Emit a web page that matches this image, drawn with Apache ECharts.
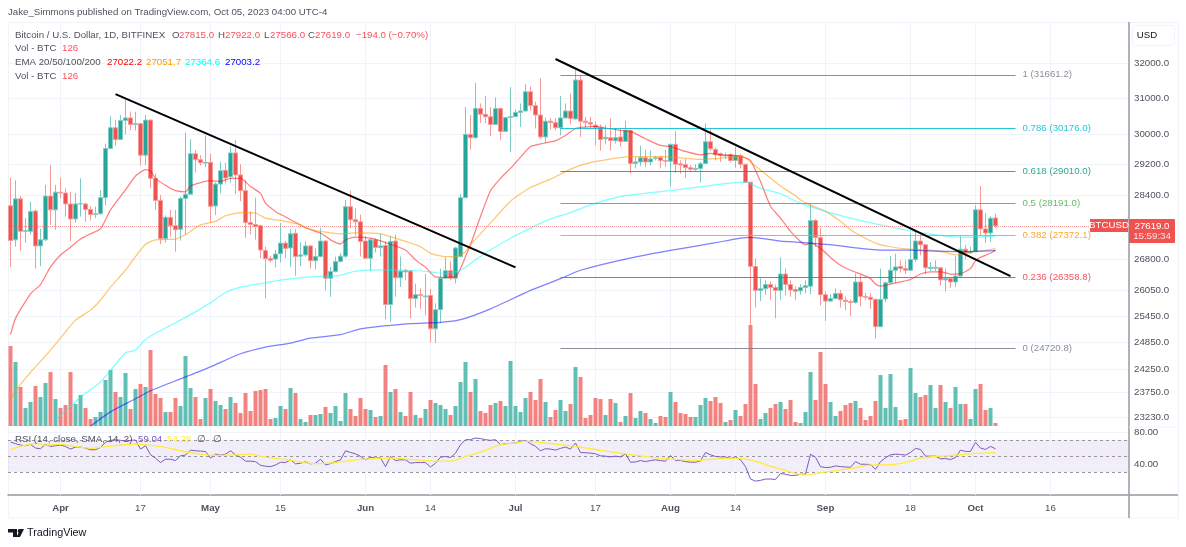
<!DOCTYPE html>
<html>
<head>
<meta charset="utf-8">
<style>html,body{margin:0;padding:0;background:#fff}#c{width:1186px;height:547px}</style>
<script src="https://cdn.jsdelivr.net/npm/echarts@6/dist/echarts.min.js"></script>
</head>
<body>
<div id="c"></div>
<script>
const firstDay = '2023-03-22';
const opens = [28123,27270,28300,27480,27480,27990,27120,27270,28370,28020,28470,28450,28170,27790,28170,28170,28030,27900,27920,28330,
29620,30180,29860,30380,30450,30270,30290,29440,30390,28830,28260,27300,27830,27620,27530,28310,28420,29480,29320,29230,
29250,28120,28680,29040,28870,29500,28920,28510,27700,27650,27620,27010,26810,26800,26930,27190,27070,27430,26870,26900,
27120,26760,26860,27240,26340,26500,26740,26870,28100,27770,27720,27240,26820,27270,27080,27130,25720,27240,26350,26520,
26510,25860,25950,25900,25930,25160,25600,26340,26520,26340,26860,28330,30000,29910,30710,30550,30480,30270,30710,30080,
30460,30490,30600,30640,31180,30790,30530,29930,30360,30320,30180,30450,30640,30420,31510,30360,30320,30250,30180,29880,
29910,29830,29930,29810,30110,29220,29260,29370,29260,29350,29380,29300,29280,29730,29210,29190,29110,29060,29090,29220,
29800,29590,29480,29420,29460,29300,29430,29200,28730,26620,26050,26090,26190,26120,26050,26440,26190,26070,26040,26120,
26150,27750,27330,25950,25800,25860,25980,25820,25790,25770,26250,25910,25890,25840,25210,25850,26230,26530,26620,26570,
26530,26790,27240,27150,26570,26580,26590,26300,26330,26250,26390,27040,26950,26980,28020,27540,27440,27815];
const closes = [27254,28300,27480,27500,27980,27120,27270,28370,28020,28470,28450,28170,27790,28170,28180,28030,27900,27920,28330,29620,
30180,29860,30380,30450,30270,30290,29440,30390,28830,28260,27300,27830,27620,27520,28310,28420,29480,29320,29240,29250,
28110,28680,29030,28840,29500,28920,28510,27700,27650,27600,27020,26810,26770,26920,27190,27060,27420,26860,26900,27120,
26760,26860,27240,26340,26500,26740,26870,28100,27770,27720,27230,26820,27270,27080,27120,25720,27230,26350,26510,26490,
25860,25950,25930,25920,25160,25600,26340,26520,26340,27070,28330,30000,29910,30710,30550,30480,30270,30710,30080,30460,
30490,30600,30640,31180,30790,30530,29930,30360,30320,30180,30450,30640,30430,31510,30360,30320,30280,30180,29860,29920,
29830,29910,29810,30110,29220,29260,29370,29260,29340,29370,29300,29280,29730,29200,29180,29110,29070,29090,29210,29800,
29610,29450,29430,29440,29300,29430,29200,28730,26620,26050,26090,26190,26120,26050,26440,26190,26060,26030,26120,26160,
27750,27330,25950,25800,25860,25980,25830,25790,25770,26250,25910,25890,25840,25210,25840,26230,26530,26610,26570,26530,
26790,27240,27150,26590,26600,26600,26300,26330,26250,26390,27040,26950,26980,28020,27540,27440,27810,27619];
const highs = [28840,28780,28370,27810,28230,28030,27545,28660,29180,28660,28850,28570,28480,28450,28830,28200,28110,28100,28530,29750,
30500,30400,30530,30960,30620,30620,30310,30530,30400,28950,28400,27880,28020,28020,28360,30050,29870,29570,29440,29970,
29480,28730,29270,29240,29670,29840,29200,28790,27980,28330,27650,27100,26880,27020,27690,27240,27540,27540,27220,27230,
27150,27060,27570,27260,26610,26860,26950,28270,28510,28060,27900,27360,27310,27310,27420,27230,27360,27400,26860,26560,
26530,26210,26100,26440,26090,25750,26570,26840,26750,27100,28420,30750,30530,31430,30850,31060,30750,31020,30720,30470,
31310,30680,30850,31400,31330,30900,31560,30460,30440,30440,31060,30850,31130,31800,31660,30480,30480,30360,30270,30250,
30440,30160,30160,30370,30120,29390,29700,29590,29570,29420,29420,29580,29750,30090,29300,29350,29180,29200,29260,30300,
30160,29640,29510,29510,29490,29670,29480,29210,28740,26820,26340,26290,26260,26190,26840,26570,26290,26150,26200,26290,
28190,27790,27560,26030,25960,26100,26060,25910,25840,26450,26430,26000,25990,25860,26570,26260,26870,26930,26770,26770,
27440,27490,27400,27160,26730,26770,26600,26570,26350,26870,27370,27150,27100,28140,28630,27940,27860,27922];
const lows = [26606,27100,27000,27200,27400,26570,26630,27240,27640,27520,28320,27850,27230,27700,27850,27720,27750,27810,27890,28130,
29600,29690,29850,30000,30110,30100,29170,29170,28580,28020,27170,27200,27350,26980,27250,27400,28400,28980,29170,29120,
27700,27890,28440,28700,28720,28420,28240,27320,27400,27270,26820,25860,26720,26600,26720,26820,26610,26400,26630,26860,
26570,26550,26840,26050,25900,26480,26720,26820,27560,27370,26860,26800,26510,26960,26860,25380,25320,25900,26130,26290,
25400,25650,25620,25470,24850,24840,25290,26330,26290,26220,26840,28320,29590,29880,30310,30310,29950,30260,29840,30070,
29520,30480,30200,30630,30650,30160,29880,29760,30130,30110,29970,30440,30270,30410,29930,30180,30160,29700,29560,29730,
29560,29750,29670,29800,28950,29090,29150,29130,29170,29300,29090,29130,28620,28970,28950,28840,29000,29000,28720,29210,
29550,29300,29260,29340,29250,29110,29090,28720,25250,25650,25800,25950,25830,25400,25830,25930,25900,25820,25950,25980,
25960,27100,25700,25340,25780,25840,25650,25590,25450,25740,25680,25820,25620,24940,25200,25770,26220,26220,26470,26440,
26520,26730,26890,26430,26510,26510,26170,26030,26110,26130,26380,26790,26930,26970,27370,27190,27230,27566];
const volumes = [3360,2688,1638,756,1008,1680,1218,1806,2268,1134,756,882,2268,924,1302,756,294,378,588,1932,
2352,1428,1218,2226,714,1554,1764,1638,3192,1344,1176,588,588,1176,840,2940,1596,1218,294,1176,
1554,1050,882,714,1218,966,546,1386,630,1470,1512,1554,294,336,840,714,1596,1386,294,168,
462,462,504,798,546,840,210,1386,714,420,1176,714,672,378,420,2562,1428,1554,
588,420,1428,462,336,714,1092,966,882,714,462,840,1848,2688,1428,1974,630,546,882,966,
1050,840,2730,840,588,1176,1428,1092,1974,1008,378,672,1092,630,924,2478,2058,336,462,1176,
1134,462,1134,966,168,420,1386,336,630,546,294,126,420,378,1428,1008,546,504,378,378,
882,1176,1050,1218,966,168,252,672,420,924,4242,1764,294,546,756,924,1008,714,1092,168,
126,588,2268,1092,3108,1764,1008,420,630,882,966,1050,756,252,420,1050,2142,756,2184,798,
252,294,2436,1386,1218,1302,1722,756,1722,1008,756,1638,924,924,294,1554,1764,672,756,126];
const rsi = [67.5,65.4,63.7,62.8,64.5,59.9,59.1,64.5,62,62.8,63.7,62,58.6,61.2,61.2,59.9,57.8,57.8,60.7,67.1,
69.6,70.4,69.6,68.7,69.6,70,58.6,62.8,51.5,47.3,41.8,46,46,44.3,50.2,51.1,57.4,56.5,56.1,55.7,
47.3,52.3,51.1,52.3,56.5,51.5,48.5,43.5,43.5,43,38.4,37.2,36.7,38.8,42.2,41.8,45.2,40.1,41,42.6,
40.1,41,46,38.8,40.5,43,45.2,56.5,54.4,52.7,49.4,45.2,48.5,47.3,47.7,36.7,49.4,44.3,45.2,45.2,
41,41.8,41.8,41.8,36.3,41,48.5,49.4,48.1,53.6,64.1,70.4,70.4,72.5,71.7,70.4,69.6,70.4,64.1,65.4,
65.8,66.2,68.3,69.6,65.4,62,56.5,59.1,58.6,57.4,59.5,61.2,58.6,66.2,54.4,54,53.6,52.7,50.2,49.8,
48.9,49.8,48.9,52.7,42.2,42.6,44.3,43,44.3,45.2,44.3,43.5,50.6,44.3,44.3,43,42.2,42.2,43.9,54.4,
51.5,49.4,48.9,48.9,46.8,48.9,45.2,36.7,21.2,18.6,19.5,21.2,21.2,20.7,28.3,27.1,25.8,25.8,27.1,27.5,
52.3,48.5,36.7,35.5,35.9,37.6,36.7,36.3,35.9,43,39.7,39.7,39.3,33.4,43,47.7,51.5,52.3,51.9,51.1,
54.4,59.5,58.2,49.8,49.8,49.8,46.4,46.8,45.6,48.1,57.4,55.7,55.7,67.1,59.9,58.2,62,59.04];
/* Moving averages as [day number, value] vertices */
const rsiSma = [[0,57.8],[2,62],[5,65.8],[7,63.7],[10,64.5],[13,62],[16,59.5],[20,62.4],[25,65],[28,63.3],[31,60.7],[35,55.3],[38,52.3],[41,50.6],[45,51.5],[48,52.3],[51,48.5],[55,45.6],[58,42.6],[61,40.5],[65,41.8],[68,44.3],[71,46],[77,47.3],[81,45.2],[85,43.5],[88,43.5],[91,49.4],[95,57],[98,64.1],[101,66.2],[103,68.7],[108,65.4],[113,62],[118,57],[123,52.7],[128,48.5],[132,46],[137,44.3],[141,46.4],[145,47.3],[148,45.2],[151,39.3],[155,31.7],[157,28.3],[159,26.2],[162,29.2],[165,31.7],[169,35.5],[172,38.8],[175,38.8],[179,41.8],[182,47.3],[185,49.4],[188,50.6],[193,53.2],[197,54.28]];
const ema20 = [[0,25030],[1,25400],[4,25970],[6,26190],[8,26610],[10,26900],[12,27090],[14,27290],[16,27420],[18,27540],[20,28020],[23,28530],[25,28890],[27,29060],[28,29020],[29,28830],[31,28650],[33,28510],[35,28480],[36,28630],[38,28720],[40,28770],[42,28750],[44,28830],[46,28830],[48,28620],[50,28440],[51,28190],[53,27980],[55,27840],[58,27640],[60,27520],[62,27440],[64,27270],[66,27170],[67,27270],[69,27340],[72,27310],[75,27200],[79,27020],[81,26780],[83,26600],[85,26370],[87,26360],[89,26370],[90,26570],[91,26860],[92,27150],[94,27850],[96,28510],[98,28830],[100,29090],[102,29390],[104,29670],[106,29740],[109,29830],[111,29970],[113,30160],[115,30200],[117,30220],[119,30170],[122,30110],[124,30080],[127,29880],[130,29700],[132,29670],[135,29540],[138,29450],[140,29490],[142,29450],[145,29430],[147,29370],[148,29300],[150,28750],[152,28110],[154,27810],[156,27480],[158,27230],[159,27150],[160,27190],[162,27060],[164,26840],[166,26650],[168,26530],[170,26440],[172,26330],[173,26200],[174,26150],[176,26200],[178,26250],[180,26310],[182,26440],[184,26490],[186,26490],[188,26440],[190,26450],[192,26570],[193,26760],[194,26840],[196,26940],[197,27022]];
const ema50 = [[0,23580],[1,23790],[4,24190],[6,24430],[8,24680],[11,25090],[13,25360],[16,25590],[18,25820],[20,26130],[23,26530],[25,26860],[27,27160],[29,27270],[33,27290],[35,27400],[38,27640],[41,27730],[43,27870],[46,27950],[49,27940],[51,27810],[55,27730],[58,27640],[59,27560],[62,27480],[66,27420],[69,27440],[74,27420],[78,27270],[82,27100],[84,26940],[87,26860],[89,26860],[91,26980],[92,27150],[96,27690],[100,28240],[104,28590],[108,28810],[112,29070],[114,29170],[117,29270],[124,29400],[130,29400],[134,29370],[138,29330],[142,29360],[146,29400],[147,29370],[148,29260],[154,28630],[157,28380],[158,28270],[160,28140],[163,27980],[166,27730],[168,27520],[170,27370],[173,27190],[176,27100],[180,27040],[184,27020],[187,26960],[189,26900],[191,26940],[193,26980],[197,27051.7]];
const ema100 = [[9,23170],[14,23650],[18,23980],[20,24230],[23,24620],[25,24680],[27,24920],[29,25060],[33,25300],[37,25550],[40,25760],[43,26000],[46,26130],[51,26230],[55,26310],[60,26370],[66,26410],[69,26510],[74,26540],[80,26530],[84,26490],[87,26450],[90,26530],[93,26780],[96,27020],[100,27310],[104,27560],[108,27790],[112,27950],[117,28190],[123,28380],[132,28510],[139,28630],[145,28720],[147,28730],[150,28570],[154,28430],[158,28190],[163,27980],[168,27810],[174,27640],[180,27490],[184,27410],[188,27350],[192,27330],[197,27364.6]];
const ema200 = [[16,23040],[20,23340],[25,23620],[28,23790],[35,24090],[40,24310],[46,24600],[51,24750],[56,24840],[60,24950],[66,25030],[70,25160],[76,25240],[80,25280],[86,25310],[90,25370],[96,25620],[104,26050],[110,26330],[114,26530],[123,26800],[132,27010],[141,27200],[146,27310],[148,27330],[154,27240],[158,27210],[164,27150],[170,27060],[174,27020],[180,27020],[186,26990],[190,26980],[197,27003.2]];
const priceTicks = [32000,31000,30000,29200,28400,26800,26050,25450,24850,24250,23750,23230];
const rsiTicks = [80,40];
const rsiLevels = [70,50,30];
const tickDays = ['2023-04-01','2023-04-17','2023-05-01','2023-05-15','2023-06-01','2023-06-14','2023-07-01','2023-07-17','2023-08-01','2023-08-14','2023-09-01','2023-09-18','2023-10-01','2023-10-16'];
const tickLabels = ['Apr','17','May','15','Jun','14','Jul','17','Aug','14','Sep','18','Oct','16'];
const fibRatios = ['1','0.786','0.618','0.5','0.382','0.236','0'];
const fibPrices = [31661.2,30176.0,29010.0,28191.0,27372.1,26358.8,24720.8];
const fibColors = ['#787b86','#00bcd4','#089981','#4caf50','#ff9800','#f23645','#787b86'];
const fibSpan = ['2023-07-10','2023-10-09'];
const trendA = [['2023-04-12',31113],['2023-07-01',26600]];
const trendB = [['2023-07-09',32116],['2023-10-08',26390]];
const lastPrice = 27619;

const UP = '#26a69a', DOWN = '#ef5350', GRID = '#f0f3fa', TXT = '#50535e', AX = '#4f525c', RED = '#f7525f';
const FONT = '"Liberation Sans", Arial, sans-serif';
const NARROW = '"Liberation Sans Narrow", "Liberation Sans", sans-serif';
const FS = 9.7;
const F = FS + 'px ' + FONT;

const categories = [];
(function(){ const d0 = Date.parse(firstDay + 'T00:00:00Z');
  for (let i = 0; i < 224; i++) categories.push(new Date(d0 + i * 864e5).toISOString().slice(0, 10)); })();

const noLine = {show:false};
const thin = {symbol:'none', silent:true, animation:false};

function bare(gridIndex){
  return {type:'category', gridIndex, data:categories, boundaryGap:true,
    axisLine:noLine, axisTick:noLine, axisLabel:noLine, splitLine:noLine};
}

const gridLineStyle = {color:GRID, width:1, type:'solid'};

const fibData = fibPrices.map((p, i) => [
  {coord:[fibSpan[0], p], lineStyle:{color:fibColors[i], width:1, type:'solid', opacity:.85},
   label:{show:true, position:'end', distance:7, color:fibColors[i], fontFamily:FONT, fontSize:FS,
     formatter: fibRatios[i] + ' (' + p.toFixed(1) + ')'}},
  {coord:[fibSpan[1], p]}
]);
const blackLine = {color:'#000', width:2, type:'solid'};
const trendData = [trendA, trendB].map(t => [
  {coord:t[0], lineStyle:blackLine, label:{show:false}},
  {coord:t[1]}
]);

function span(x, y, text, fill){
  return {type:'text', z:50, silent:true, x, y, style:{text, fill, font:F, textVerticalAlign:'middle'}};
}
function boxText(x, y, text, fill, font){
  return {type:'text', z:51, silent:true, x, y, style:{text, fill, font, textAlign:'center', textVerticalAlign:'middle'}};
}

const emaLine = (name, data, color, opacity) => ({name, type:'line', xAxisIndex:0, yAxisIndex:0, data,
  showSymbol:false, z:4, silent:true, smooth:0.2, lineStyle:{color, width:1.25, opacity}});

const option = {
  animation:false,
  backgroundColor:'#fff',
  textStyle:{fontFamily:FONT},
  grid:[
    {left:8, top:22, width:1120, height:405},
    {left:8, top:325, width:1120, height:101},
    {left:8, top:427, width:1120, height:68}
  ],
  xAxis:[
    bare(0), bare(1),
    Object.assign(bare(2), {
      axisLine:{show:true, lineStyle:{color:'#9598a1', width:1.5}},
      axisLabel:{show:true, interval:(i, v) => tickDays.includes(v), margin:8, hideOverlap:false,
        fontFamily:FONT, fontSize:FS,
        formatter:v => {
          const l = tickLabels[tickDays.indexOf(v)];
          return /\d/.test(l) ? '{n|' + l + '}' : '{m|' + l + '}';
        },
        rich:{n:{color:AX, fontSize:FS, fontFamily:FONT}, m:{color:AX, fontSize:FS, fontWeight:'bold', fontFamily:FONT}}
      }
    })
  ],
  yAxis:[
    {type:'log', gridIndex:0, position:'right', logBase:10, min:23023, max:33209,
      axisLine:noLine, axisTick:noLine, splitLine:noLine,
      axisLabel:{show:true, customValues:priceTicks, formatter:v => Number(v).toFixed(1), color:AX,
        fontFamily:FONT, fontSize:FS, margin:6, showMinLabel:true, showMaxLabel:true}},
    {type:'value', gridIndex:1, min:0, max:4242, axisLine:noLine, axisTick:noLine, axisLabel:noLine, splitLine:noLine},
    {type:'value', gridIndex:2, position:'right', min:1.25, max:86.25,
      axisLine:noLine, axisTick:noLine, splitLine:noLine,
      axisLabel:{show:true, customValues:rsiTicks, formatter:v => Number(v).toFixed(2), color:AX,
        fontFamily:FONT, fontSize:FS, margin:6}}
  ],
  series:[
    {name:'grid', type:'line', xAxisIndex:0, yAxisIndex:0, data:[closes[0]], showSymbol:false, lineStyle:{opacity:0}, z:1, silent:true,
      markLine:Object.assign({z:1, label:{show:false}, lineStyle:gridLineStyle,
        data:priceTicks.map(v => ({yAxis:v})).concat(tickDays.map(d => ({xAxis:d})))}, thin)},
    {name:'gridRsi', type:'line', xAxisIndex:2, yAxisIndex:2, data:[rsi[0]], showSymbol:false, lineStyle:{opacity:0}, z:1, silent:true,
      markLine:Object.assign({z:1, label:{show:false}, lineStyle:gridLineStyle,
        data:rsiTicks.map(v => ({yAxis:v})).concat(tickDays.map(d => ({xAxis:d})))}, thin)},
    {name:'Vol', type:'bar', xAxisIndex:1, yAxisIndex:1, barWidth:4, z:2, silent:true,
      data:volumes.map((v, i) => ({value:v, itemStyle:{color:closes[i] >= opens[i] ? UP : DOWN, opacity:.72}}))},
    {name:'BTCUSD', type:'candlestick', xAxisIndex:0, yAxisIndex:0, barWidth:4, z:3, silent:true,
      data:opens.map((o, i) => [o, closes[i], lows[i], highs[i]]),
      itemStyle:{color:UP, color0:DOWN, borderColor:'#7fcac3', borderColor0:'#f69a98', borderWidth:1},
      markLine:Object.assign({z:6, label:{show:false},
        data:[{yAxis:lastPrice, lineStyle:{color:DOWN, type:'dotted', width:1, opacity:.55}, label:{show:false}}]
          .concat(fibData).concat(trendData)}, thin)},
    emaLine('EMA20', ema20, '#ff0000', .5),
    emaLine('EMA50', ema50, '#ff9800', .55),
    emaLine('EMA100', ema100, '#00ffff', .5),
    emaLine('EMA200', ema200, '#0000ff', .5),
    {name:'RSI', type:'line', xAxisIndex:2, yAxisIndex:2, data:rsi, showSymbol:false, z:4, silent:true,
      lineStyle:{color:'#7e57c2', width:1},
      markArea:{silent:true, z:1, itemStyle:{color:'rgba(126,87,194,0.1)'}, data:[[{yAxis:rsiLevels[0]},{yAxis:rsiLevels[2]}]]},
      markLine:Object.assign({z:2, label:{show:false},
        lineStyle:{color:'#9598a1', type:[3,3], width:1}, data:rsiLevels.map(v => ({yAxis:v}))}, thin)},
    {name:'RSI SMA', type:'line', xAxisIndex:2, yAxisIndex:2, data:rsiSma, showSymbol:false, z:4, silent:true, smooth:0.2,
      lineStyle:{color:'#ffeb3b', width:1.3}}
  ],
  graphic:{elements:[
    {type:'rect', z:0, silent:true, shape:{x:8.5, y:22.5, width:1170, height:495.5}, style:{fill:'none', stroke:GRID, lineWidth:1}},
    {type:'line', z:50, silent:true, shape:{x1:1129, y1:22, x2:1129, y2:518}, style:{stroke:'#9598a1', lineWidth:1.5}},
    {type:'line', z:50, silent:true, shape:{x1:1129, y1:495, x2:1178, y2:495}, style:{stroke:'#9598a1', lineWidth:1.5}},
    {type:'line', z:50, silent:true, shape:{x1:1129, y1:427, x2:1178, y2:427}, style:{stroke:GRID, lineWidth:1}},
    span(8, 12.5, 'Jake_Simmons published on TradingView.com, Oct 05, 2023 04:00 UTC-4', TXT),
    span(15, 35, 'Bitcoin / U.S. Dollar, 1D, BITFINEX', TXT),
    span(172, 35, 'O', TXT), span(179, 35, '27815.0', RED),
    span(218, 35, 'H', TXT), span(225, 35, '27922.0', RED),
    span(264, 35, 'L', TXT), span(270, 35, '27566.0', RED),
    span(308, 35, 'C', TXT), span(315, 35, '27619.0', RED),
    span(356, 35, '−194.0 (−0.70%)', RED),
    span(15, 48.5, 'Vol - BTC', TXT), span(62, 48.5, '126', RED),
    span(15, 62, 'EMA 20/50/100/200', TXT),
    span(107, 62, '27022.2', '#ff0000'), span(146, 62, '27051.7', '#ff9800'),
    span(185, 62, '27364.6', '#00ffff'), span(225, 62, '27003.2', '#0000ff'),
    span(15, 76, 'Vol - BTC', TXT), span(62, 76, '126', RED),
    span(15, 439.5, 'RSI (14, close, SMA, 14, 2)', TXT),
    span(138, 439.5, '59.04', '#7e57c2'), span(167, 439.5, '54.28', '#ffeb3b'),
    span(197, 439.5, '∅', TXT), span(213, 439.5, '∅', TXT),
    {type:'rect', z:50, silent:true, shape:{x:1132.5, y:25.5, width:42, height:20, r:3}, style:{fill:'#fff', stroke:GRID, lineWidth:1}},
    boxText(1147, 35.5, 'USD', '#131722', FS + 'px ' + NARROW),
    {type:'rect', z:50, silent:true, shape:{x:1090, y:219, width:38, height:13}, style:{fill:DOWN}},
    boxText(1109, 225.7, 'BTCUSD', '#fff', FS + 'px ' + NARROW),
    {type:'rect', z:50, silent:true, shape:{x:1129, y:219, width:46, height:24, r:1}, style:{fill:DOWN}},
    boxText(1152, 226, '27619.0', '#fff', F),
    boxText(1152, 236.5, '15:59:34', '#ffe3e3', F),
    {type:'polygon', z:50, silent:true, shape:{points:[[8,529],[17,529],[17,537],[13,537],[13,532.5],[8,532.5]]}, style:{fill:'#131722'}},
    {type:'circle', z:50, silent:true, shape:{cx:19.5, cy:531, r:1.9}, style:{fill:'#131722'}},
    {type:'polygon', z:50, silent:true, shape:{points:[[24,529],[20,537],[16.5,537],[20.5,529]]}, style:{fill:'#131722'}},
    {type:'text', z:50, silent:true, x:27, y:533.5, style:{text:'TradingView', fill:'#131722', font:'10.8px '+FONT, textVerticalAlign:'middle'}}
  ]}
};

const chart = echarts.init(document.getElementById('c'), null, {renderer:'canvas', width:1186, height:547});
chart.setOption(option);
</script>
</body>
</html>
